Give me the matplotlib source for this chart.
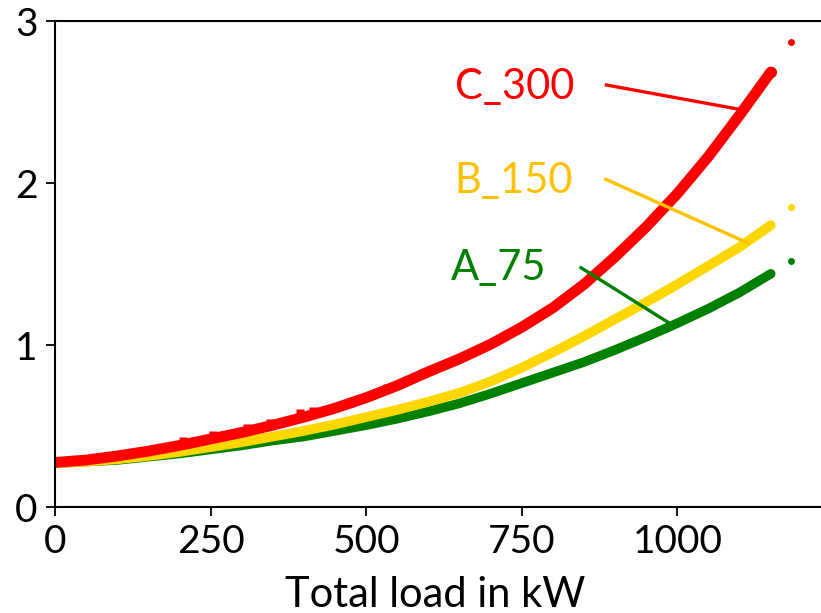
import matplotlib.pyplot as plt

plt.rcParams['font.family'] = ['Lato', 'DejaVu Sans']

# total load (kW) sampled along each curve
load = [0, 50, 100, 150, 200, 250, 300, 350, 400, 450, 500, 550,
        600, 650, 700, 750, 800, 850, 900, 950, 1000, 1050, 1100, 1150]

a_75 = [0.27, 0.28, 0.29, 0.31, 0.33, 0.355, 0.38, 0.41, 0.435, 0.47, 0.505, 0.545,
        0.59, 0.64, 0.70, 0.765, 0.83, 0.895, 0.97, 1.05, 1.135, 1.225, 1.325, 1.44]
b_150 = [0.27, 0.28, 0.295, 0.315, 0.34, 0.37, 0.40, 0.435, 0.47, 0.51, 0.555, 0.60,
         0.65, 0.705, 0.775, 0.86, 0.955, 1.055, 1.16, 1.265, 1.375, 1.49, 1.605, 1.74]
c_300 = [0.275, 0.29, 0.315, 0.345, 0.38, 0.42, 0.46, 0.505, 0.555, 0.61, 0.675, 0.75,
         0.835, 0.915, 1.005, 1.11, 1.23, 1.375, 1.545, 1.73, 1.935, 2.165, 2.42, 2.685]

# scattered high readings of C_300 in the middle range
c_spike_x = [206, 254, 308, 345, 393, 415, 474, 533]
c_spike_y = [0.41, 0.445, 0.49, 0.52, 0.58, 0.59, 0.645, 0.735]

# last isolated point of each series
end_x = [1182, 1182, 1182]
end_y = [1.52, 1.85, 2.87]

names = ['A_75', 'B_150', 'C_300']
colors = ['#008000', '#FFD700', '#FF0000']
text_colors = ['#008000', '#FFC000', '#FF0000']
label_pos = [(636, 1.475), (642, 2.012), (642, 2.593)]
line_from = [(845, 1.477), (885, 2.023), (886, 2.605)]
line_to = [(992, 1.123), (1113, 1.630), (1105, 2.451)]

fig = plt.figure(figsize=(8.21, 6.13), dpi=100)
ax = fig.add_axes([0.067, 0.1729, 0.9477, 0.7928])

for ys, col, w in zip([a_75, b_150, c_300], colors, [6.8, 7, 7.8]):
    ax.plot(load, ys, '-', color=col, lw=w, solid_capstyle='round', zorder=2)
ax.plot(c_spike_x, c_spike_y, 's', color=colors[2], ms=6, mec='none', zorder=3)
ax.plot(load[-1], c_300[-1], 'o', color=colors[2], ms=8, mec='none', zorder=3)
for xe, ye, col in zip(end_x, end_y, colors):
    ax.plot(xe, ye, 'o', color=col, ms=5, mec='none')

for name, col, pos, p0, p1 in zip(names, text_colors, label_pos, line_from, line_to):
    ax.text(pos[0], pos[1], name, color=col, fontsize=30, ha='left', va='center')
    ax.plot([p0[0], p1[0]], [p0[1], p1[1]], color=col, lw=2.4, zorder=4)

ax.set_xlim(0, 1250)
ax.set_ylim(0, 3)
ax.set_xticks([0, 250, 500, 750, 1000])
ax.set_yticks([0, 1, 2, 3])
ax.tick_params(labelsize=28, length=6.5, width=1.3, pad=6)
for s in ax.spines.values():
    s.set_linewidth(1.5)

fig.text(435 / 821, 1 - 607 / 613, 'Total load in kW', fontsize=30,
         ha='center', va='baseline')

fig.savefig('out.png', dpi=100)
